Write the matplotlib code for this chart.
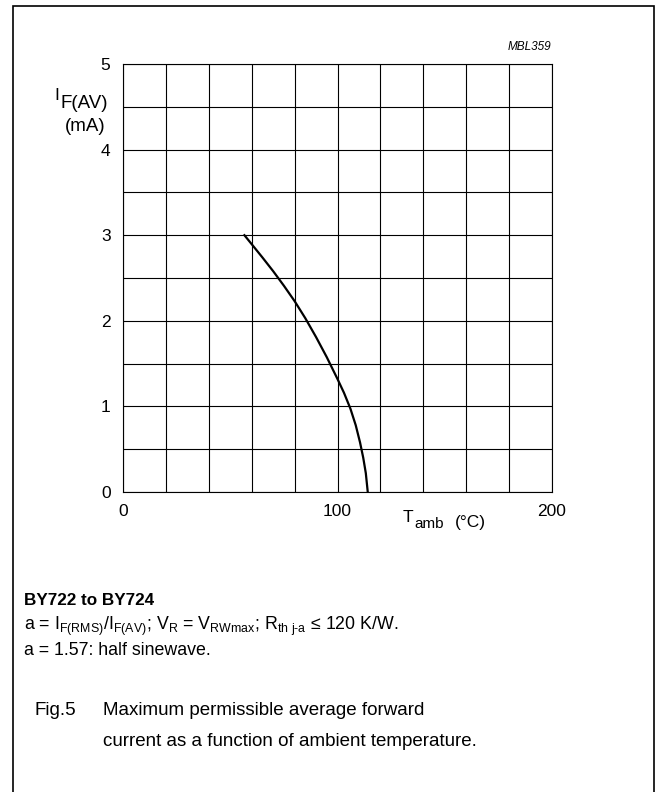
import matplotlib
matplotlib.use("Agg")
import matplotlib.pyplot as plt
from matplotlib.patches import Rectangle

plt.rcParams["font.family"] = ["Liberation Sans", "DejaVu Sans"]
plt.rcParams["mathtext.fontset"] = "custom"
plt.rcParams["mathtext.rm"] = "Liberation Sans"
plt.rcParams["mathtext.it"] = "Liberation Sans:italic"
plt.rcParams["mathtext.bf"] = "Liberation Sans:bold"

# curve: T_amb (degC) vs I_F(AV) (mA)
t_amb = [56.6, 60, 65, 70, 75, 80, 85, 90, 95, 100, 103, 106, 108.5, 110.5, 112, 113.2, 114.1]
i_fav = [3.00, 2.895, 2.74, 2.58, 2.41, 2.23, 2.03, 1.81, 1.575, 1.32, 1.16, 0.975, 0.78, 0.58, 0.40, 0.22, 0.0]

x_ticks = [0, 100, 200]
y_ticks = [0, 1, 2, 3, 4, 5]


def px(x, y):
    # figure fraction from reference pixel position
    return x / 655, 1 - y / 792


fig = plt.figure(figsize=(6.55, 7.92), dpi=100)

# frame round the figure
fig.patches.append(Rectangle((13 / 655, -0.01), (654 - 13) / 655, 1 - 6 / 792 + 0.01,
                             transform=fig.transFigure, fill=False,
                             edgecolor="black", linewidth=1.2))

ax = fig.add_axes([123 / 655, 1 - 492 / 792, 429 / 655, 428 / 792])
ax.plot(t_amb, i_fav, color="black", linewidth=1.6, solid_joinstyle="round")
ax.set_xlim(0, 200)
ax.set_ylim(0, 5)
ax.set_xticks(range(0, 201, 20), minor=True)
ax.set_yticks([v / 2 for v in range(11)], minor=True)
ax.set_xticks(x_ticks)
ax.set_yticks(y_ticks)
ax.grid(True, which="both", color="black", linewidth=0.8)
ax.tick_params(which="both", length=0, labelsize=12.5)
ax.tick_params(axis="x", pad=9)
ax.tick_params(axis="y", pad=9)
for s in ax.spines.values():
    s.set_linewidth(0.8)

fig.text(*px(551, 50), "MBL359", style="italic", fontsize=8.5, ha="right", va="baseline")

# y label
fig.text(*px(54, 100), "I", fontsize=12.5, ha="left", va="baseline")
fig.text(*px(60, 108), "F(AV)", fontsize=13.5, ha="left", va="baseline")
fig.text(*px(85, 131), "(mA)", fontsize=13.5, ha="center", va="baseline")

# x label
fig.text(*px(403, 522), "T", fontsize=12.5, ha="left", va="baseline")
fig.text(*px(414, 528), "amb", fontsize=11, ha="left", va="baseline")
fig.text(*px(455, 527), "(°C)", fontsize=12.5, ha="left", va="baseline")

fig.text(*px(24, 605), "BY722 to BY724", fontsize=12.3, weight="bold",
         ha="left", va="baseline")
fig.text(*px(24, 630),
         r"a = I$_\mathregular{F(RMS)}$/I$_\mathregular{F(AV)}$; V$_\mathregular{R}$ = "
         r"V$_\mathregular{RWmax}$; R$_\mathregular{th\ j\text{-}a}$ ≤ 120 K/W.",
         fontsize=12.8, ha="left", va="baseline")
fig.text(*px(24, 655), "a = 1.57: half sinewave.", fontsize=12.8,
         ha="left", va="baseline")

fig.text(*px(35, 715), "Fig.5", fontsize=13.5, ha="left", va="baseline")
fig.text(*px(103, 715), "Maximum permissible average forward",
         fontsize=13.5, ha="left", va="baseline")
fig.text(*px(103, 746), "current as a function of ambient temperature.",
         fontsize=13.5, ha="left", va="baseline")

fig.savefig("out.png", dpi=100)
